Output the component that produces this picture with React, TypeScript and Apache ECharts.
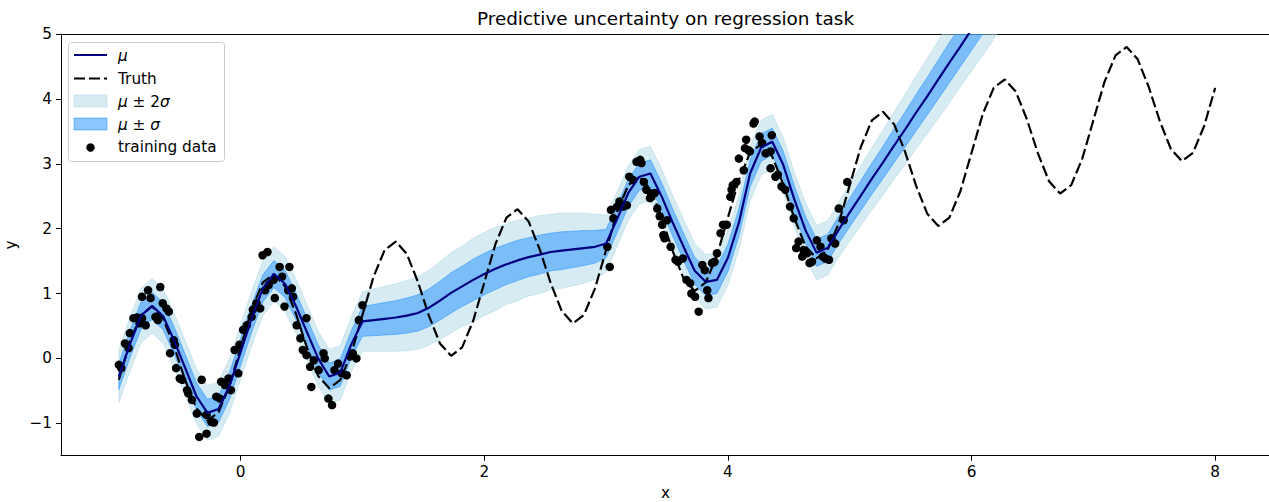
import React, { useEffect, useRef } from 'react';
import * as echarts from 'echarts';

// x grid used by truth / mean / sigma (100 samples from -1 to 8)
const xGrid = [
  -1.000, -0.909, -0.818, -0.727, -0.636, -0.545, -0.455, -0.364, -0.273, -0.182, -0.091,
  0.000, 0.091, 0.182, 0.273, 0.364, 0.455, 0.545, 0.636, 0.727, 0.818, 0.909,
  1.000, 1.091, 1.182, 1.273, 1.364, 1.455, 1.545, 1.636, 1.727, 1.818, 1.909,
  2.000, 2.091, 2.182, 2.273, 2.364, 2.455, 2.545, 2.636, 2.727, 2.818, 2.909,
  3.000, 3.091, 3.182, 3.273, 3.364, 3.455, 3.545, 3.636, 3.727, 3.818, 3.909,
  4.000, 4.091, 4.182, 4.273, 4.364, 4.455, 4.545, 4.636, 4.727, 4.818, 4.909,
  5.000, 5.091, 5.182, 5.273, 5.364, 5.455, 5.545, 5.636, 5.727, 5.818, 5.909,
  6.000, 6.091, 6.182, 6.273, 6.364, 6.455, 6.545, 6.636, 6.727, 6.818, 6.909,
  7.000, 7.091, 7.182, 7.273, 7.364, 7.455, 7.545, 7.636, 7.727, 7.818, 7.909,
  8.000,
];

const truth = [
  -0.33, 0.26, 0.67, 0.80, 0.61, 0.18, -0.34, -0.77, -0.96, -0.83, -0.42,
  0.17, 0.76, 1.17, 1.30, 1.11, 0.68, 0.16, -0.27, -0.46, -0.33, 0.08,
  0.67, 1.26, 1.67, 1.80, 1.61, 1.18, 0.66, 0.23, 0.04, 0.17, 0.58,
  1.17, 1.76, 2.17, 2.30, 2.11, 1.68, 1.16, 0.73, 0.54, 0.67, 1.08,
  1.67, 2.26, 2.67, 2.80, 2.61, 2.18, 1.66, 1.23, 1.04, 1.17, 1.58,
  2.17, 2.76, 3.17, 3.30, 3.11, 2.68, 2.16, 1.73, 1.54, 1.67, 2.08,
  2.67, 3.26, 3.67, 3.80, 3.61, 3.18, 2.66, 2.23, 2.04, 2.17, 2.58,
  3.17, 3.76, 4.17, 4.30, 4.11, 3.68, 3.16, 2.73, 2.54, 2.67, 3.08,
  3.67, 4.26, 4.67, 4.80, 4.61, 4.18, 3.66, 3.23, 3.04, 3.17, 3.58,
  4.17,
];

const mu = [
  -0.28, 0.22, 0.66, 0.81, 0.65, 0.27, -0.15, -0.58, -0.84, -0.78, -0.42,
  0.10, 0.62, 1.08, 1.30, 1.15, 0.80, 0.40, 0.00, -0.28, -0.22, 0.22,
  0.57, 0.59, 0.61, 0.63, 0.66, 0.70, 0.78, 0.89, 1.01, 1.11, 1.21,
  1.30, 1.38, 1.45, 1.51, 1.56, 1.60, 1.64, 1.66, 1.68, 1.70, 1.72,
  1.77, 2.15, 2.55, 2.80, 2.85, 2.50, 2.10, 1.72, 1.35, 1.18, 1.21,
  1.55, 2.10, 2.85, 3.25, 3.34, 2.98, 2.45, 1.98, 1.63, 1.70, 1.98,
  2.25, 2.51, 2.77, 3.02, 3.28, 3.53, 3.79, 4.04, 4.30, 4.56, 4.81,
  5.07, 5.33, 5.58, 5.84, 6.10, 6.35,
];

const sigma = [
  0.20, 0.21, 0.21, 0.21, 0.21, 0.21, 0.21, 0.21, 0.21, 0.21, 0.21,
  0.21, 0.21, 0.21, 0.21, 0.21, 0.21, 0.21, 0.21, 0.21, 0.21, 0.21,
  0.23, 0.24, 0.25, 0.26, 0.27, 0.28, 0.29, 0.30, 0.31, 0.31, 0.32,
  0.32, 0.32, 0.31, 0.31, 0.30, 0.30, 0.29, 0.29, 0.28, 0.27, 0.25,
  0.22, 0.21, 0.21, 0.21, 0.21, 0.21, 0.21, 0.21, 0.21, 0.21, 0.21,
  0.21, 0.21, 0.21, 0.21, 0.21, 0.21, 0.21, 0.21, 0.21, 0.21, 0.21,
  0.22, 0.23, 0.24, 0.25, 0.26, 0.27, 0.28, 0.29, 0.30, 0.31, 0.31,
  0.32, 0.33, 0.33, 0.33, 0.33, 0.33,
];

const trainData: [number, number][] = [
  [-1.00, -0.10], [-0.98, -0.15], [-0.95, 0.23], [-0.92, 0.16], [-0.91, 0.39], [-0.88, 0.62],
  [-0.85, 0.63], [-0.83, 0.54], [-0.81, 0.62], [-0.78, 0.51], [-0.81, 0.95], [-0.76, 1.05],
  [-0.74, 0.93], [-0.70, 0.64], [-0.68, 0.59], [-0.66, 1.10], [-0.64, 0.85], [-0.61, 0.77],
  [-0.59, 0.72], [-0.55, 0.28], [-0.54, 0.21], [-0.58, 0.08], [-0.53, -0.15], [-0.50, -0.31],
  [-0.48, -0.33], [-0.44, -0.49], [-0.43, -0.54], [-0.40, -0.64], [-0.36, -0.85], [-0.32, -0.33],
  [-0.28, -0.87], [-0.24, -0.98], [-0.22, -0.99], [-0.34, -1.21], [-0.28, -1.16], [-0.20, -0.59],
  [-0.17, -0.62], [-0.16, -0.36], [-0.13, -0.41], [-0.10, -0.31], [-0.08, -0.49], [-0.05, 0.13],
  [-0.02, -0.23], [-0.01, 0.21], [0.02, 0.44], [0.05, 0.51], [0.09, 0.64], [0.10, 0.75],
  [0.13, 0.85], [0.16, 0.77], [0.18, 1.59], [0.22, 1.64], [0.20, 1.05], [0.23, 1.13],
  [0.27, 1.21], [0.28, 0.93], [0.32, 1.41], [0.34, 1.26], [0.36, 0.80], [0.39, 1.05],
  [0.40, 1.41], [0.42, 1.08], [0.43, 0.95], [0.46, 0.51], [0.49, 0.31], [0.51, 0.13],
  [0.54, 0.62], [0.54, 0.05], [0.57, -0.13], [0.58, -0.44], [0.60, -0.03], [0.64, -0.18],
  [0.68, 0.08], [0.69, 0.00], [0.72, -0.62], [0.75, -0.72], [0.77, -0.18], [0.80, -0.08],
  [0.83, -0.23], [0.87, -0.26], [0.90, 0.03], [0.92, 0.08], [0.95, 0.00], [0.97, 0.59],
  [1.00, 0.82],
  [3.01, 1.72], [3.03, 1.41], [3.04, 2.29], [3.06, 2.16], [3.09, 2.34], [3.11, 2.42],
  [3.14, 2.34], [3.17, 2.36], [3.19, 2.80], [3.22, 2.75], [3.25, 3.03], [3.28, 3.06],
  [3.29, 3.01], [3.31, 2.72], [3.33, 2.60], [3.36, 2.47], [3.37, 2.52], [3.40, 2.55],
  [3.42, 2.31], [3.44, 2.19], [3.46, 2.06], [3.50, 2.13], [3.47, 1.90], [3.48, 1.85],
  [3.53, 1.72], [3.57, 1.52], [3.59, 1.49], [3.63, 1.54], [3.66, 1.21], [3.69, 1.16],
  [3.70, 1.00], [3.73, 0.95], [3.76, 0.72], [3.79, 1.44], [3.81, 1.36], [3.83, 1.05],
  [3.84, 0.93], [3.87, 1.47], [3.89, 1.49], [3.91, 1.62], [3.94, 1.93], [3.96, 2.06],
  [3.99, 2.06], [4.02, 2.49], [4.03, 2.60], [4.04, 2.67], [4.07, 2.72], [4.09, 3.08],
  [4.13, 2.90], [4.14, 3.24], [4.15, 3.37], [4.17, 3.21], [4.18, 3.19], [4.21, 3.62],
  [4.22, 3.65], [4.26, 3.42], [4.28, 3.32], [4.31, 3.16], [4.35, 3.19], [4.36, 3.44],
  [4.35, 2.93], [4.39, 2.80], [4.41, 2.83], [4.44, 2.65], [4.47, 2.60], [4.51, 2.34],
  [4.54, 2.16], [4.58, 1.80], [4.56, 1.70], [4.61, 1.57], [4.62, 1.67], [4.65, 1.62],
  [4.67, 1.47], [4.69, 1.49], [4.73, 1.82], [4.76, 1.72], [4.78, 1.57], [4.80, 1.54],
  [4.83, 1.52], [4.85, 1.85], [4.88, 1.77], [4.91, 2.31], [4.95, 2.13], [4.98, 2.72],
];

const xTicks = [0, 2, 4, 6, 8];
const yTicks = [-1, 0, 1, 2, 3, 4, 5];

const FONT = '"DejaVu Sans", sans-serif';
const FS = 15.3;
const LIGHT = 'rgba(173,216,230,0.5)';
const DODGER = 'rgba(30,144,255,0.5)';

export default function App() {
  const ref = useRef<HTMLDivElement>(null);

  useEffect(() => {
    const chart = echarts.init(ref.current!, null, { renderer: 'svg' });
    const n = mu.length;
    const xs = xGrid.slice(0, n);
    const muData = xs.map((x, i) => [x, mu[i]]);
    const truthData = xGrid.map((x, i) => [x, truth[i]]);

    // band series: one data row per grid point [x, lower, upper]
    const bandRows = (k: number) => xs.map((x, i) => [x, mu[i] - k * sigma[i], mu[i] + k * sigma[i]]);

    const bandSeries = (name: string, k: number, color: string) => ({
      name,
      type: 'custom',
      clip: true,
      silent: true,
      data: bandRows(k),
      encode: { x: 0, y: [1, 2] },
      renderItem: (params: any, api: any) => {
        if (params.dataIndex !== 0) return null;
        const rows = bandRows(k);
        const top = rows.map((r) => api.coord([r[0], r[2]]));
        const bottom = rows.map((r) => api.coord([r[0], r[1]])).reverse();
        return {
          type: 'polygon',
          shape: { points: top.concat(bottom) },
          style: { fill: color, stroke: color, lineWidth: 1 },
        };
      },
    });

    const legendText = (y: number, text: string) => ({
      type: 'text',
      x: 118,
      y,
      z: 102,
      style: {
        text,
        fill: '#000',
        fontSize: FS,
        fontFamily: FONT,
        verticalAlign: 'middle',
        rich: { i: { fontStyle: 'italic', fontSize: FS, fontFamily: FONT, fill: '#000' } },
      },
    });

    const axisText = { fontSize: FS, fontFamily: FONT, color: '#000' };

    chart.setOption({
      animation: false,
      grid: {
        left: 61,
        top: 34,
        width: 1209,
        height: 421.7,
        show: false,
        outerBoundsMode: 'none',
        containLabel: false,
      },
      xAxis: [
        {
          type: 'value',
          min: -1.475,
          max: 8.45,
          name: 'x',
          nameLocation: 'middle',
          nameGap: 30,
          nameTextStyle: axisText,
          axisLine: { show: true, onZero: false, lineStyle: { color: '#000', width: 1 } },
          axisTick: { show: true, customValues: xTicks, length: 5, lineStyle: { color: '#000' } },
          axisLabel: { customValues: xTicks, ...axisText, margin: 9 },
          splitLine: { show: false },
        },
        {
          type: 'value',
          position: 'top',
          min: -1.475,
          max: 8.45,
          axisLine: { show: true, onZero: false, lineStyle: { color: '#000', width: 1 } },
          axisTick: { show: false },
          axisLabel: { show: false },
          splitLine: { show: false },
        },
      ],
      yAxis: {
        type: 'value',
        min: -1.5,
        max: 5,
        name: 'y',
        nameLocation: 'middle',
        nameRotate: 90,
        nameGap: 40,
        nameTextStyle: axisText,
        axisLine: { show: true, onZero: false, lineStyle: { color: '#000', width: 1 } },
        axisTick: { show: true, customValues: yTicks, length: 5, lineStyle: { color: '#000' } },
        axisLabel: {
          customValues: yTicks,
          ...axisText,
          margin: 9,
          formatter: (v: number) => (v < 0 ? '\u2212' + Math.abs(v) : String(v)),
        },
        splitLine: { show: false },
      },
      series: [
        bandSeries('μ ± 2σ', 2, LIGHT),
        bandSeries('μ ± σ', 1, DODGER),
        {
          name: 'Truth', type: 'line', data: truthData, symbol: 'none',
          lineStyle: { color: '#000', width: 2.2, type: [11, 4] }, silent: true,
        },
        {
          name: 'μ', type: 'line', data: muData, symbol: 'none',
          lineStyle: { color: '#000080', width: 2.2 }, silent: true,
        },
        {
          name: 'training data', type: 'scatter', data: trainData, symbol: 'circle', symbolSize: 8.5,
          itemStyle: { color: '#000', opacity: 1 }, silent: true,
        },
      ],
      graphic: [
        {
          type: 'text',
          x: 665.5,
          y: 18,
          style: {
            text: 'Predictive uncertainty on regression task',
            fill: '#000',
            fontSize: 18.4,
            fontFamily: FONT,
            textAlign: 'center',
            verticalAlign: 'middle',
          },
        },
        {
          type: 'rect',
          z: 100,
          shape: { x: 68.5, y: 42.5, width: 156, height: 119, r: 3 },
          style: { fill: 'rgba(255,255,255,0.8)', stroke: '#cccccc', lineWidth: 1 },
        },
        { type: 'line', z: 101, shape: { x1: 74, y1: 55, x2: 107, y2: 55 }, style: { stroke: '#000080', lineWidth: 2.2 } },
        {
          type: 'line', z: 101, shape: { x1: 74, y1: 78.5, x2: 107, y2: 78.5 },
          style: { stroke: '#000', lineWidth: 2.2, lineDash: [11, 4] },
        },
        { type: 'rect', z: 101, shape: { x: 74, y: 95, width: 33, height: 12 }, style: { fill: LIGHT, stroke: LIGHT, lineWidth: 1 } },
        { type: 'rect', z: 101, shape: { x: 74, y: 118, width: 33, height: 12 }, style: { fill: DODGER, stroke: DODGER, lineWidth: 1 } },
        { type: 'circle', z: 101, shape: { cx: 90.5, cy: 147.5, r: 4.2 }, style: { fill: '#000' } },
        legendText(56, '{i|μ}'),
        legendText(78.5, 'Truth'),
        legendText(101.5, '{i|μ} ± 2{i|σ}'),
        legendText(124.5, '{i|μ} ± {i|σ}'),
        legendText(147, 'training data'),
      ],
    });

    return () => chart.dispose();
  }, []);

  return (
    <div
      ref={ref}
      style={{ position: 'fixed', left: 0, top: 0, width: 1269, height: 502, background: '#fff' }}
    />
  );
}
